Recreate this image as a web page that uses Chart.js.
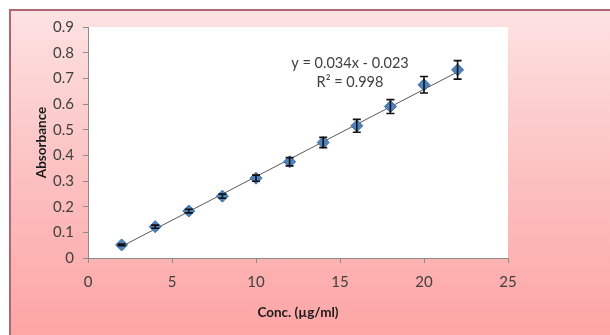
<!DOCTYPE html>
<html>
<head>
<meta charset="utf-8">
<script src="https://cdn.jsdelivr.net/npm/chart.js@4/dist/chart.umd.min.js"></script>
<style>
  html, body { margin: 0; padding: 0; background: #ffffff; width: 610px; height: 335px; overflow: hidden; }
  #bg { position: absolute; left: 9px; top: 9px; width: 620px; height: 340px;
        border-left: 2px solid #b06670; border-top: 2px solid #b06670;
        background: linear-gradient(to bottom, #fde2e2 0%, #fcc3c3 45%, #fea2a2 100%); }
  #wrap { position: absolute; left: 0; top: 0; width: 610px; height: 335px; }
</style>
</head>
<body>
<div id="bg"></div>
<div id="wrap"><canvas id="c" width="610" height="335"></canvas></div>
<script>
const concentrations = [2, 4, 6, 8, 10, 12, 14, 16, 18, 20, 22];
const absorbance = [0.051, 0.122, 0.183, 0.241, 0.311, 0.375, 0.450, 0.515, 0.590, 0.675, 0.733];
const errors = [0.003, 0.006, 0.007, 0.008, 0.012, 0.016, 0.020, 0.025, 0.027, 0.032, 0.036];
const trendX = [2, 22];
const trendY = [0.045, 0.725];
const yTickLabels = ['0', '0.1', '0.2', '0.3', '0.4', '0.5', '0.6', '0.7', '0.8', '0.9'];
const xTickLabels = ['0', '5', '10', '15', '20', '25'];
const equationText = ['y = 0.034x - 0.023', 'R² = 0.998'];

const FONT = 'Lato, "Open Sans", sans-serif';

const errorBarPlugin = {
  id: 'errorBars',
  afterDatasetsDraw(chart) {
    const ctx = chart.ctx;
    const xs = chart.scales.x, ys = chart.scales.y;
    ctx.save();
    ctx.strokeStyle = '#111111';
    ctx.lineWidth = 1.6;
    concentrations.forEach((cx, i) => {
      const px = xs.getPixelForValue(cx);
      const top = ys.getPixelForValue(absorbance[i] + errors[i]);
      const bot = ys.getPixelForValue(absorbance[i] - errors[i]);
      ctx.beginPath();
      ctx.moveTo(px, top); ctx.lineTo(px, bot);
      ctx.moveTo(px - 4, top); ctx.lineTo(px + 4, top);
      ctx.moveTo(px - 4, bot); ctx.lineTo(px + 4, bot);
      ctx.stroke();
    });
    ctx.fillStyle = '#404040';
    ctx.font = '14.5px ' + FONT;
    ctx.textAlign = 'center';
    ctx.textBaseline = 'middle';
    ctx.fillText(equationText[0], 350, 63);
    ctx.fillText(equationText[1], 350, 82);
    ctx.restore();
  }
};

const plotBgPlugin = {
  id: 'plotBg',
  beforeDraw(chart) {
    const a = chart.chartArea;
    const ctx = chart.ctx;
    ctx.save();
    ctx.fillStyle = '#ffffff';
    ctx.fillRect(a.left, a.top, a.right - a.left, a.bottom - a.top);
    ctx.restore();
  }
};

new Chart(document.getElementById('c'), {
  type: 'scatter',
  data: {
    datasets: [
      {
        type: 'line',
        data: trendX.map((x, i) => ({ x: x, y: trendY[i] })),
        borderColor: '#5a5a5a',
        borderWidth: 1,
        pointRadius: 0,
        fill: false,
        order: 2
      },
      {
        data: concentrations.map((x, i) => ({ x: x, y: absorbance[i] })),
        pointStyle: 'rectRot',
        pointRadius: 6,
        backgroundColor: '#4f81bd',
        borderColor: '#3f6fa8',
        borderWidth: 1,
        order: 1
      }
    ]
  },
  options: {
    responsive: false,
    animation: false,
    devicePixelRatio: 1,
    layout: { padding: { left: 0, right: 102, top: 27, bottom: 0 } },
    plugins: { legend: { display: false }, tooltip: { enabled: false } },
    scales: {
      x: {
        type: 'linear', min: 0, max: 25,
        afterFit(s) { s.height = 77; },
        afterBuildTicks(s) { s.ticks = xTickLabels.map(v => ({ value: Number(v) })); },
        ticks: { callback: (v, i) => xTickLabels[i], color: '#404040', padding: 10,
                 font: { family: FONT, size: 15 } },
        grid: { drawOnChartArea: false, drawTicks: true, tickLength: 5, color: '#8c8c8c' },
        border: { color: '#8c8c8c', width: 1 },
        title: { display: true, text: 'Conc. (µg/ml)', color: '#1a1a1a', padding: { top: 0, bottom: 14 },
                 font: { family: FONT, size: 13.5, weight: 'bold' } }
      },
      y: {
        type: 'linear', min: 0, max: 0.9,
        afterFit(s) { s.width = 88; },
        afterBuildTicks(s) { s.ticks = yTickLabels.map(v => ({ value: Number(v) })); },
        ticks: { callback: (v, i) => yTickLabels[i], color: '#404040', padding: 9,
                 font: { family: FONT, size: 15 } },
        grid: { drawOnChartArea: false, drawTicks: true, tickLength: 5, color: '#8c8c8c' },
        border: { color: '#8c8c8c', width: 1 },
        title: { display: true, text: 'Absorbance', color: '#1a1a1a', padding: { top: 34, bottom: 0 },
                 font: { family: FONT, size: 13.5, weight: 'bold' } }
      }
    }
  },
  plugins: [plotBgPlugin, errorBarPlugin]
});
</script>
</body>
</html>
